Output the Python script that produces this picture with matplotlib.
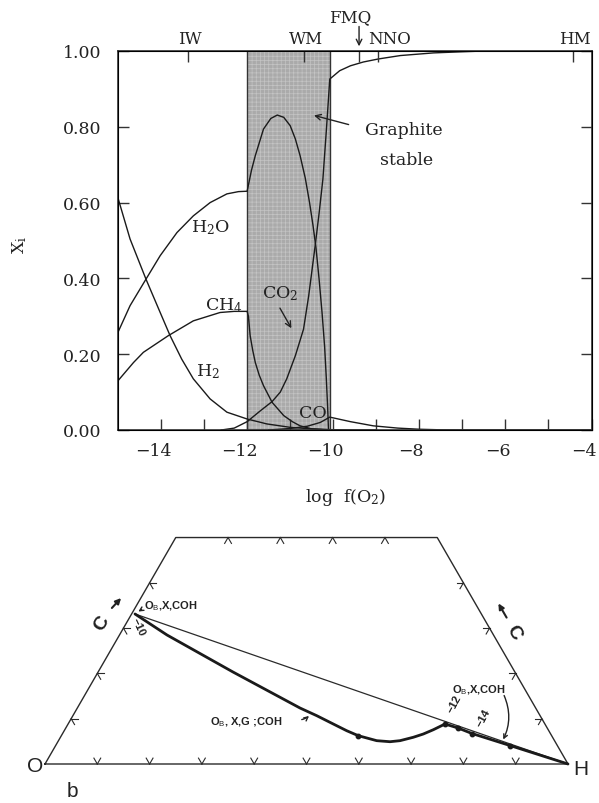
import numpy as np
import matplotlib
matplotlib.use("Agg")
import matplotlib.pyplot as plt
from matplotlib.transforms import ScaledTranslation

plt.rcParams['font.family'] = ['DejaVu Serif']
plt.rcParams['mathtext.fontset'] = 'custom'
plt.rcParams['mathtext.rm'] = 'DejaVu Serif'
plt.rcParams['mathtext.it'] = 'DejaVu Serif:italic'
plt.rcParams['mathtext.sf'] = 'Liberation Sans'
plt.rcParams['hatch.linewidth'] = 0.5

# ---------------- upper panel data: mole fraction vs log f(O2) ----------------
h2o_x = [-15.0, -14.72, -14.35, -14.02, -13.63, -13.25, -12.86, -12.47, -12.2, -12.0,
         -11.9, -11.81, -11.62, -11.45, -11.30, -11.15, -11.0, -10.88, -10.77, -10.65,
         -10.55, -10.47, -10.40, -10.33, -10.26, -10.20, -10.16, -10.13, -10.11]
h2o_y = [0.258, 0.328, 0.398, 0.460, 0.521, 0.565, 0.600, 0.623, 0.629, 0.630,
         0.685, 0.724, 0.794, 0.822, 0.831, 0.825, 0.803, 0.768, 0.724, 0.665,
         0.600, 0.540, 0.480, 0.400, 0.310, 0.220, 0.135, 0.060, 0.0]

ch4_x = [-15.0, -14.64, -14.41, -13.83, -13.25, -12.63, -12.3, -12.0, -11.97, -11.93,
         -11.87, -11.81, -11.72, -11.62, -11.42, -11.15, -10.95, -10.77, -10.5, -10.1]
ch4_y = [0.130, 0.178, 0.205, 0.249, 0.288, 0.310, 0.313, 0.313, 0.300, 0.249,
         0.210, 0.178, 0.145, 0.117, 0.073, 0.038, 0.022, 0.011, 0.003, 0.0]

h2_x = [-15.0, -14.72, -14.35, -14.02, -13.79, -13.52, -13.25, -12.86, -12.47, -12.0,
        -11.54, -11.0, -10.5, -10.08, -9.5, -9.0]
h2_y = [0.612, 0.504, 0.398, 0.310, 0.249, 0.187, 0.135, 0.082, 0.047, 0.029,
        0.016, 0.007, 0.003, 0.001, 0.0, 0.0]

co2_x = [-12.6, -12.3, -12.0, -11.7, -11.42, -11.23, -11.08, -10.88, -10.69, -10.57,
         -10.42, -10.33, -10.24, -10.16, -10.08, -9.85, -9.6, -9.3, -8.95, -8.44,
         -7.67, -7.0, -6.5, -5.0, -4.0]
co2_y = [0.0, 0.005, 0.022, 0.050, 0.075, 0.100, 0.135, 0.196, 0.266, 0.354,
         0.486, 0.570, 0.662, 0.790, 0.926, 0.948, 0.961, 0.971, 0.979, 0.988,
         0.995, 0.998, 1.0, 1.0, 1.0]

co_x = [-11.5, -11.0, -10.6, -10.3, -10.08, -9.6, -9.07, -8.5, -8.0, -7.5, -7.0, -4.0]
co_y = [0.0, 0.004, 0.010, 0.020, 0.034, 0.022, 0.011, 0.005, 0.002, 0.0005, 0.0, 0.0]

graphite_field = (-12.0, -10.08)

buffer_names = ['IW', 'WM', 'FMQ', 'NNO', 'HM']
buffer_logfo2 = [-13.37, -10.67, -9.40, -8.95, -4.43]

xticks_major = [-14, -12, -10, -8, -6, -4]
xticks_minor = [-13, -11, -9, -7, -5]
yticks = [0.0, 0.2, 0.4, 0.6, 0.8, 1.0]

# ---------------- lower panel data: C-O-H ternary compositions ----------------
# fluid path (mole fractions of C and H; O is the remainder)
path_XC = [0.3312, 0.2848, 0.2031, 0.1236, 0.1067, 0.0883, 0.0735, 0.0625, 0.0515,
           0.0492, 0.0515, 0.0590, 0.0662, 0.0757, 0.0883, 0.0795, 0.0673, 0.0408, 0.0]
path_XH = [0.0065, 0.0909, 0.2579, 0.4258, 0.4662, 0.5071, 0.5401, 0.5678, 0.6085,
           0.6351, 0.6530, 0.6747, 0.6902, 0.7047, 0.7207, 0.7500, 0.7828, 0.8687, 1.0]
bulk_XC = [0.3312, 0.0]
bulk_XH = [0.0065, 1.0]
dot_index = [7, 14, 15, 16, 17]
grid_fracs = [0.1, 0.2, 0.3, 0.4, 0.5, 0.6, 0.7, 0.8, 0.9]
top_cut = 0.5

W, H = 599, 804
fig = plt.figure(figsize=(W / 100, H / 100), dpi=100)

# ---------------- upper panel ----------------
L, R, T, B = 118, 591.5, 52, 431
ax = fig.add_axes([L / W, 1 - B / H, (R - L) / W, (B - T) / H])
ax.set_xlim(-15, -4)
ax.set_ylim(0, 1)
ax.axvspan(*graphite_field, facecolor='#aaaaaa', edgecolor='none', zorder=0)
ax.axvspan(*graphite_field, facecolor='none', edgecolor='#c4c4c4', hatch='++++', lw=0, zorder=0.5)
for xv in graphite_field:
    ax.axvline(xv, color='#333333', lw=1.0, zorder=1)
lc = '#1a1a1a'
for xs, ys in [(h2o_x, h2o_y), (ch4_x, ch4_y), (h2_x, h2_y), (co2_x, co2_y), (co_x, co_y)]:
    ax.plot(xs, ys, color=lc, lw=1.0, zorder=2)

for s in ax.spines.values():
    s.set_linewidth(1.2)
    s.set_color('#333333')

ax.set_xticks(xticks_major)
ax.set_xticks(xticks_minor, minor=True)
ax.set_xticklabels(['\u2212%d' % abs(v) for v in xticks_major])
ax.set_yticks(yticks)
ax.set_yticklabels(['%.2f' % v for v in yticks])
ax.tick_params(axis='both', which='both', direction='in', length=8, width=1.0,
               colors='#333333', labelcolor='#222222', labelsize=12.5)
ax.tick_params(axis='y', right=True, pad=12)
ax.tick_params(axis='x', pad=9)
for lab in ax.get_xticklabels():
    lab.set_transform(lab.get_transform() + ScaledTranslation(-8 / 100, 0, fig.dpi_scale_trans))

# top buffer ticks
axt = ax.twiny()
axt.set_xlim(ax.get_xlim())
axt.set_xticks(buffer_logfo2)
axt.set_xticklabels([])
axt.tick_params(axis='x', direction='in', length=8, width=1.0, colors='#333333')
for nm, xv in zip(buffer_names, buffer_logfo2):
    if nm == 'FMQ':
        ax.annotate('', xy=(xv, 1.005), xytext=(xv, 1.072), xycoords='data',
                    arrowprops=dict(arrowstyle='->', lw=1.0, color='#222222'),
                    annotation_clip=False)
        ax.text(xv - 0.2, 1.09, nm, ha='center', va='center', fontsize=12, color='#222222')
    elif nm == 'NNO':
        ax.text(xv + 0.25, 1.034, nm, ha='center', va='center', fontsize=12, color='#222222')
    else:
        ax.text(xv + 0.05, 1.034, nm, ha='center', va='center', fontsize=12, color='#222222')

# curve labels
ax.text(-12.86, 0.536, r'H$_\mathrm{2}$O', ha='center', va='center', fontsize=12.5, color='#222222')
ax.text(-12.53, 0.332, r'CH$_\mathrm{4}$', ha='center', va='center', fontsize=12.5, color='#222222')
ax.text(-12.9, 0.156, r'H$_\mathrm{2}$', ha='center', va='center', fontsize=12.5, color='#222222')
ax.text(-11.23, 0.362, r'CO$_\mathrm{2}$', ha='center', va='center', fontsize=12.5, color='#222222')
ax.annotate('', xy=(-10.94, 0.262), xytext=(-11.27, 0.328),
            arrowprops=dict(arrowstyle='->', lw=1.0, color='#222222'))
ax.text(-10.47, 0.047, 'CO', ha='center', va='center', fontsize=12.5, color='#222222')
ax.text(-8.35, 0.794, 'Graphite', ha='center', va='center', fontsize=12.5, color='#222222')
ax.text(-8.30, 0.715, 'stable', ha='center', va='center', fontsize=12.5, color='#222222')
ax.annotate('', xy=(-10.51, 0.832), xytext=(-9.58, 0.804),
            arrowprops=dict(arrowstyle='->', lw=1.0, color='#222222'))

fig.text(346 / W, 1 - 498 / H, r'log  f(O$_\mathrm{2}$)', ha='center', va='center',
         fontsize=12.5, color='#222222')
fig.text(20 / W, 1 - 245 / H, r'X$_\mathrm{i}$', ha='center', va='center', rotation=90,
         fontsize=12.5, color='#222222')

# ---------------- lower panel: ternary C-O-H ----------------
O_px, Hx_px, base_y = 45.0, 568.0, 765.0
scale = Hx_px - O_px
top_px = 480.0
ax2 = fig.add_axes([0, 0, 1, (H - top_px) / H])
ax2.set_xlim((0 - O_px) / scale, (W - O_px) / scale)
ax2.set_ylim((base_y - H) / scale, (base_y - top_px) / scale)
ax2.axis('off')

s3 = np.sqrt(3) / 2


def tern(xc, xh):
    xc = np.asarray(xc, float)
    xh = np.asarray(xh, float)
    return xh + 0.5 * xc, s3 * xc


def px(x, y):
    return (x - O_px) / scale, (base_y - y) / scale


ec = '#2a2a2a'
# outline (truncated triangle)
ox, oy = tern([0, top_cut, top_cut, 0], [0, 0, 1 - top_cut, 1])
ax2.plot(list(ox) + [ox[0]], list(oy) + [oy[0]], color=ec, lw=1.0)

# grid tick marks
tl = 0.013
def tick(x0, y0, angs):
    for a in angs:
        r = np.deg2rad(a)
        ax2.plot([x0, x0 + tl * np.cos(r)], [y0, y0 + tl * np.sin(r)], color=ec, lw=0.8)

for f in grid_fracs:
    bx, by = tern(0, f)
    tick(bx, by, [60, 120])
for f in [0.1, 0.2, 0.3, 0.4]:
    lx, ly = tern(f, 0)
    tick(lx, ly, [0, -60])
    rx, ry = tern(f, 1 - f)
    tick(rx, ry, [180, 240])
    tx, ty = tern(top_cut, f)
    tick(tx, ty, [240, 300])

# bulk-composition line and fluid path
bx, by = tern(bulk_XC, bulk_XH)
ax2.plot(bx, by, color=ec, lw=0.9)
pxs, pys = tern(path_XC, path_XH)
ax2.plot(pxs, pys, color='#1a1a1a', lw=2.0, solid_capstyle='round')
ax2.plot(pxs[dot_index], pys[dot_index], 'o', color='#1a1a1a', ms=3.2)

sf = ['Liberation Sans', 'DejaVu Sans']
tc = '#222222'
ax2.text(*px(35, 767), 'O', ha='center', va='center', fontsize=15, family=sf, color=tc)
ax2.text(*px(581, 770), 'H', ha='center', va='center', fontsize=15, family=sf, color=tc)
ax2.text(*px(72, 792), 'b', ha='center', va='center', fontsize=15, family=sf, color=tc)
ax2.text(*px(102, 624), 'C', ha='center', va='center', fontsize=14, family=sf, color=tc,
         rotation=60, fontweight='bold')
ax2.annotate('', xy=px(123, 597), xytext=px(110, 611),
             arrowprops=dict(arrowstyle='-|>', lw=1.5, color=tc, mutation_scale=8))
ax2.text(*px(514, 633), 'C', ha='center', va='center', fontsize=14, family=sf, color=tc,
         rotation=-60, fontweight='bold')
ax2.annotate('', xy=px(497, 602), xytext=px(508, 621),
             arrowprops=dict(arrowstyle='-|>', lw=1.5, color=tc, mutation_scale=8))

small = dict(fontsize=8, family=sf, color=tc, fontweight='bold')
ax2.text(*px(144, 606), r'O$_\mathsf{B}$,X,COH', ha='left', va='center', **small)
ax2.annotate('', xy=px(136, 614), xytext=px(144, 609),
             arrowprops=dict(arrowstyle='->', lw=1.0, color=tc, mutation_scale=7))
ax2.text(*px(138, 627), '\u221210', ha='center', va='center', rotation=-65, **small)
ax2.text(*px(210, 722), r'O$_\mathsf{B}$, X,G ;COH', ha='left', va='center', **small)
ax2.annotate('', xy=px(311, 715), xytext=px(299, 721),
             arrowprops=dict(arrowstyle='->', lw=1.0, color=tc, mutation_scale=7,
                             connectionstyle='arc3,rad=0.2'))
ax2.text(*px(479, 690), r'O$_\mathsf{B}$,X,COH', ha='center', va='center', **small)
ax2.annotate('', xy=px(502, 743), xytext=px(503, 694),
             arrowprops=dict(arrowstyle='->', lw=1.0, color=tc, mutation_scale=7,
                             connectionstyle='arc3,rad=-0.25'))
ax2.text(*px(454, 704), '\u221212', ha='center', va='center', rotation=62, **small)
ax2.text(*px(483, 718), '\u221214', ha='center', va='center', rotation=62, **small)

fig.savefig('out.png', dpi=100)
